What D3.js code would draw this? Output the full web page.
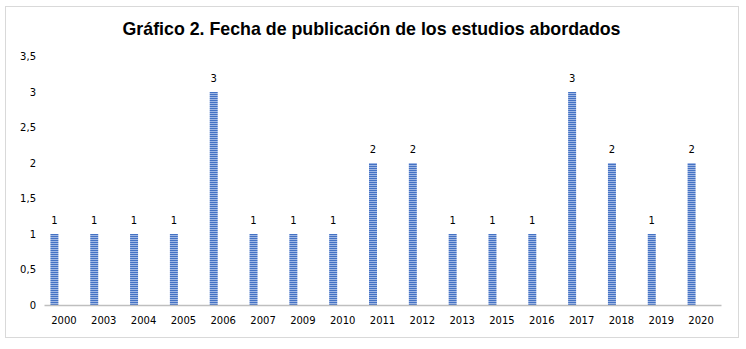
<!DOCTYPE html>
<html><head><meta charset="utf-8">
<script src="https://cdn.jsdelivr.net/npm/d3@7"></script>
<style>body{margin:0;background:#fff}</style>
</head><body>
<svg id="c" width="746" height="349"></svg>
<script>
const categories = ["2000","2003","2004","2005","2006","2007","2009","2010","2011","2012","2013","2015","2016","2017","2018","2019","2020"];
const values = [1,1,1,1,3,1,1,1,2,2,1,1,1,3,2,1,2];
const yTicks = [0,0.5,1,1.5,2,2.5,3,3.5];
const title = "Gráfico 2. Fecha de publicación de los estudios abordados";

const svg = d3.select("#c");
const defs = svg.append("defs");
const pat = defs.append("pattern").attr("id","stripes").attr("patternUnits","userSpaceOnUse")
  .attr("width",4).attr("height",2);
pat.append("rect").attr("width",4).attr("height",2).attr("fill","#4472c4");
pat.append("rect").attr("y",1).attr("width",4).attr("height",1).attr("fill","#9fb6e3");

svg.append("rect").attr("x",5.5).attr("y",6.5).attr("width",733).attr("height",331)
  .attr("fill","#fff").attr("stroke","#d9d9d9").attr("stroke-width",1);

svg.append("text").attr("x",371.5).attr("y",34.5).attr("text-anchor","middle")
  .attr("font-family","Liberation Sans, Arial, sans-serif").attr("font-weight","bold")
  .attr("font-size",17.8).attr("fill","#000").text(title);

const x = d3.scaleBand().domain(categories).range([44,721]);
const y = d3.scaleLinear().domain([0,3.5]).range([305,56.5]);

const font = "DejaVu Sans, Verdana, sans-serif";
const yAxis = svg.append("g").attr("transform","translate(36,0)")
  .call(d3.axisLeft(y).tickValues(yTicks).tickSize(0).tickPadding(0)
    .tickFormat(d => d3.format("")(d).replace(".",",")));
yAxis.select(".domain").remove();
yAxis.selectAll("text").attr("font-family",font).attr("font-size",10).attr("fill","#000");

const bw = 8;
svg.append("g").selectAll("rect").data(values).join("rect")
  .attr("x",(d,i)=>x(categories[i]) + x.bandwidth()/2 - 9.5 - bw/2)
  .attr("y",d=>y(d)).attr("width",bw).attr("height",d=>y(0)-y(d))
  .attr("fill","url(#stripes)");

svg.append("g").selectAll("text").data(values).join("text")
  .attr("x",(d,i)=>x(categories[i]) + x.bandwidth()/2 - 9.5)
  .attr("y",d=>y(d)-10).attr("text-anchor","middle")
  .attr("font-family",font).attr("font-size",10).attr("fill","#000").text(d=>d);

const xAxis = svg.append("g").attr("transform","translate(0,305)")
  .call(d3.axisBottom(x).tickSize(0).tickPadding(12));
xAxis.select(".domain").attr("stroke","#bfbfbf").attr("stroke-width",1.5);
xAxis.selectAll("text").attr("font-family",font).attr("font-size",10).attr("fill","#000");
</script>
</body></html>
